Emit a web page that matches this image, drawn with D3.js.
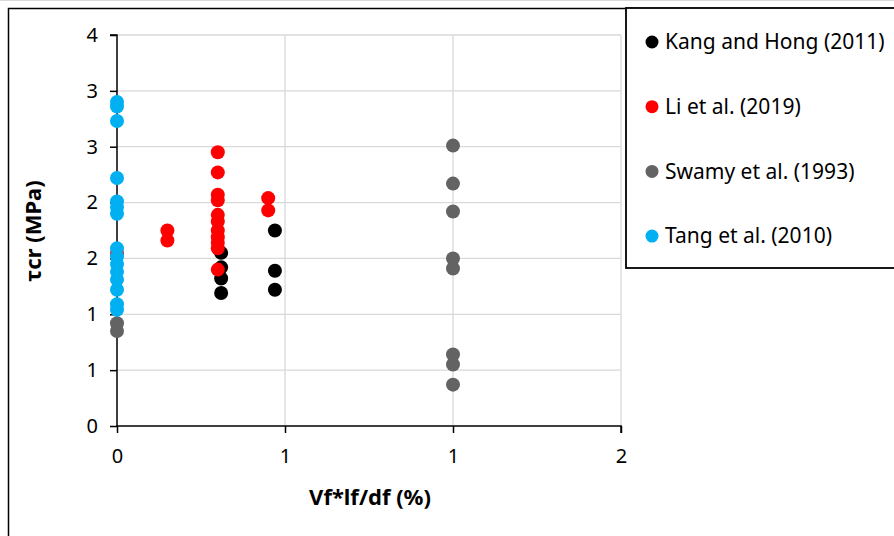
<!DOCTYPE html>
<html>
<head>
<meta charset="utf-8">
<script src="https://cdn.jsdelivr.net/npm/d3@7"></script>
<style>
  body { margin: 0; background: #fff; }
  svg { display: block; font-family: "Noto Sans", "Open Sans", sans-serif; }
</style>
</head>
<body>
<svg width="894" height="536"></svg>
<script>
// series values [x, y]
const kang = [[0.31, 1.55], [0.31, 1.42], [0.31, 1.32], [0.31, 1.19],
              [0.47, 1.75], [0.47, 1.39], [0.47, 1.22]];
const li = [[0, 1.55],
            [0.15, 1.75], [0.15, 1.66],
            [0.30, 2.45], [0.30, 2.27], [0.30, 2.07], [0.30, 2.02], [0.30, 1.89], [0.30, 1.83],
            [0.30, 1.75], [0.30, 1.69], [0.30, 1.64], [0.30, 1.59], [0.30, 1.40],
            [0.45, 2.04], [0.45, 1.93]];
const swamy = [[0, 0.92], [0, 0.85],
               [1, 2.51], [1, 2.17], [1, 1.92], [1, 1.50], [1, 1.41], [1, 0.64], [1, 0.55], [1, 0.37]];
const tang = [[0, 2.90], [0, 2.86], [0, 2.73], [0, 2.22], [0, 2.01], [0, 1.96], [0, 1.90],
              [0, 1.59], [0, 1.52], [0, 1.45], [0, 1.38], [0, 1.31], [0, 1.22], [0, 1.09], [0, 1.04]];

const seriesNames = ["Kang and Hong (2011)", "Li et al. (2019)", "Swamy et al. (1993)", "Tang et al. (2010)"];
const seriesColors = ["#000000", "#ff0000", "#636363", "#00b0f0"];
const seriesData = [kang, li, swamy, tang];

const xTicks = [0, 0.5, 1, 1.5];
const xTickLabels = ["0", "1", "1", "2"];
const yTicks = [0, 0.5, 1, 1.5, 2, 2.5, 3, 3.5];
const yTickLabels = ["0", "1", "1", "2", "2", "3", "3", "4"];

const svg = d3.select("svg");
const plot = { left: 117, right: 621, top: 35, bottom: 426 };

// outer frame
svg.append("line").attr("x1", 0).attr("x2", 894).attr("y1", 0.5).attr("y2", 0.5)
    .attr("stroke", "#d9d9d9").attr("stroke-width", 1);
svg.append("path")
    .attr("d", "M8.5,540 V8.5 H640")
    .attr("fill", "none").attr("stroke", "#000").attr("stroke-width", 1.5);

const xScale = d3.scaleLinear().domain([0, 1.5]).range([plot.left, plot.right]);
const yScale = d3.scaleLinear().domain([0, 3.5]).range([plot.bottom, plot.top]);

const g = svg.append("g");

// grid
g.selectAll("line.gy").data(yTicks.slice(1)).join("line")
    .attr("class", "gy")
    .attr("x1", plot.left).attr("x2", plot.right)
    .attr("y1", d => yScale(d)).attr("y2", d => yScale(d))
    .attr("stroke", "#d9d9d9").attr("stroke-width", 1.3);
g.selectAll("line.gx").data(xTicks.slice(1)).join("line")
    .attr("class", "gx")
    .attr("x1", d => xScale(d)).attr("x2", d => xScale(d))
    .attr("y1", plot.top).attr("y2", plot.bottom)
    .attr("stroke", "#d9d9d9").attr("stroke-width", 1.3);

// axes
const yAxis = g.append("g")
    .attr("transform", `translate(${plot.left},0)`)
    .call(d3.axisLeft(yScale).tickValues(yTicks).tickSize(7).tickPadding(12)
        .tickFormat((d, i) => yTickLabels[i]));
const xAxis = g.append("g")
    .attr("transform", `translate(0,${plot.bottom})`)
    .call(d3.axisBottom(xScale).tickValues(xTicks).tickSize(7).tickPadding(16)
        .tickFormat((d, i) => xTickLabels[i]));

[xAxis, yAxis].forEach(ax => {
    ax.select(".domain").attr("stroke", "#000").attr("stroke-width", 1.5);
    ax.selectAll(".tick line").attr("stroke", "#000").attr("stroke-width", 1.5);
    ax.selectAll(".tick text").attr("fill", "#000")
        .style("font-size", "20px").style("font-family", "'Noto Sans', sans-serif");
});
yAxis.select(".domain").attr("d", `M-7,${yScale(3.5)}H0V${plot.bottom}`);
xAxis.select(".domain").attr("d", `M${plot.left},0H${plot.right}V7`);

// points
seriesData.forEach((s, i) => {
    g.append("g").selectAll("circle").data(s).join("circle")
        .attr("cx", d => xScale(d[0]))
        .attr("cy", d => yScale(d[1]))
        .attr("r", 7)
        .attr("fill", seriesColors[i]);
});

// axis titles
svg.append("text")
    .attr("x", 370).attr("y", 505)
    .attr("text-anchor", "middle")
    .style("font-size", "22px").style("font-weight", "bold")
    .text("Vf*lf/df (%)");
svg.append("text")
    .attr("transform", "translate(41,231) rotate(-90)")
    .attr("text-anchor", "middle")
    .style("font-size", "22px").style("font-weight", "bold")
    .text("τcr (MPa)");

// legend
const legend = svg.append("g");
legend.append("rect")
    .attr("x", 626).attr("y", 8).attr("width", 290).attr("height", 260)
    .attr("fill", "#fff").attr("stroke", "#000").attr("stroke-width", 1.8);
const items = legend.selectAll("g.item").data(seriesNames).join("g")
    .attr("class", "item")
    .attr("transform", (d, i) => `translate(652,${42 + i * 64.7})`);
items.append("circle").attr("r", 6.5).attr("fill", (d, i) => seriesColors[i]);
items.append("text")
    .attr("x", 13).attr("dy", "0.35em")
    .style("font-size", "21px")
    .text(d => d);
</script>
</body>
</html>
